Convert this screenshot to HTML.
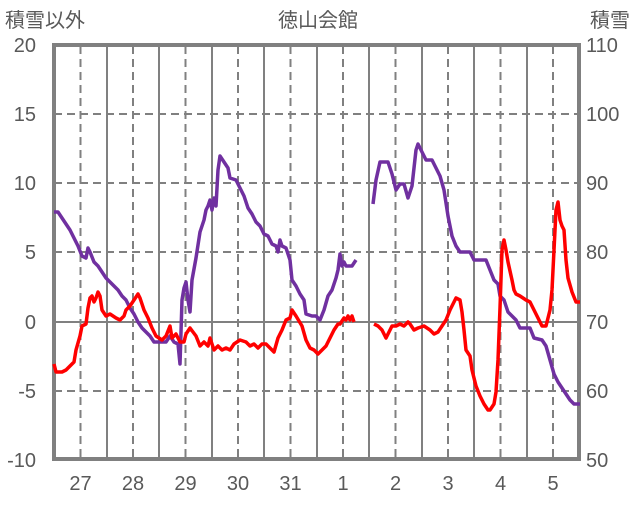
<!DOCTYPE html>
<html><head><meta charset="utf-8"><style>
body{margin:0;background:#fff}
text{font-family:"Liberation Sans","Noto Sans CJK JP",sans-serif;fill:#595959}
</style></head><body>
<svg width="636" height="501" xmlns="http://www.w3.org/2000/svg">
<g font-size="20">
<text x="5" y="27">積雪以外</text>
<text x="318" y="27" text-anchor="middle">徳山会館</text>
<text x="590" y="27">積雪</text>
<g text-anchor="end">
<text x="36" y="52">20</text><text x="36" y="121">15</text><text x="36" y="190">10</text>
<text x="36" y="259">5</text><text x="36" y="329">0</text><text x="36" y="398">-5</text><text x="36" y="467">-10</text>
</g>
<g>
<text x="586" y="52">110</text><text x="586" y="121">100</text><text x="586" y="190">90</text>
<text x="586" y="259">80</text><text x="586" y="329">70</text><text x="586" y="398">60</text><text x="586" y="467">50</text>
</g>
<g text-anchor="middle">
<text x="80.5" y="490">27</text><text x="133" y="490">28</text><text x="185.5" y="490">29</text>
<text x="238" y="490">30</text><text x="290.5" y="490">31</text><text x="343" y="490">1</text>
<text x="395.5" y="490">2</text><text x="448" y="490">3</text><text x="500.5" y="490">4</text><text x="553" y="490">5</text>
</g>
</g>
<g stroke="#808080" stroke-width="2" stroke-dasharray="8,5">
<line x1="54" x2="579" y1="114" y2="114"/><line x1="54" x2="579" y1="183" y2="183"/>
<line x1="54" x2="579" y1="252" y2="252"/><line x1="54" x2="579" y1="391" y2="391"/>
<line x1="80.5" x2="80.5" y1="46" y2="459"/><line x1="133" x2="133" y1="46" y2="459"/>
<line x1="185.5" x2="185.5" y1="46" y2="459"/><line x1="238" x2="238" y1="46" y2="459"/>
<line x1="290.5" x2="290.5" y1="46" y2="459"/><line x1="343" x2="343" y1="46" y2="459"/>
<line x1="395.5" x2="395.5" y1="46" y2="459"/><line x1="448" x2="448" y1="46" y2="459"/>
<line x1="500.5" x2="500.5" y1="46" y2="459"/><line x1="553" x2="553" y1="46" y2="459"/>
</g>
<g stroke="#808080" stroke-width="2">
<line x1="54" x2="579" y1="322" y2="322"/>
<line x1="107" x2="107" y1="46" y2="459"/><line x1="159" x2="159" y1="46" y2="459"/>
<line x1="212" x2="212" y1="46" y2="459"/><line x1="264" x2="264" y1="46" y2="459"/>
<line x1="317" x2="317" y1="46" y2="459"/><line x1="369" x2="369" y1="46" y2="459"/>
<line x1="422" x2="422" y1="46" y2="459"/><line x1="474" x2="474" y1="46" y2="459"/>
<line x1="527" x2="527" y1="46" y2="459"/>
</g>
<rect x="54" y="45" width="525" height="414" fill="none" stroke="#808080" stroke-width="4"/>
<g fill="none" stroke="#7030a0" stroke-width="3.5" stroke-linejoin="round">
<polyline points="54,212 58,212 62,218 66,224 70,230 74,238 78,246 82,256 86,258 88,248 90,252 94,262 98,266 102,272 106,278 110,282 114,286 118,290 122,296 126,300 130,308 134,314 138,322 142,328 146,332 150,336 154,342 160,342 166,342 170,336 174,342 178,344 180,364 182,300 184,288 186,282 188,300 190,312 192,280 196,258 200,232 204,220 206,210 208,206 210,200 212,210 214,198 216,206 218,170 220,156 224,162 228,168 230,178 236,180 240,188 244,196 248,208 252,214 256,222 260,226 264,234 268,236 272,244 276,246 278,252 280,240 282,246 286,248 290,260 292,280 296,286 300,294 304,300 306,314 312,316 316,316 320,320 324,310 328,296 332,290 336,278 338,270 340,254 342,266 344,262 346,266 352,266 356,260"/>
<polyline points="373,204 376,180 380,162 388,162 392,174 396,190 400,184 404,184 408,198 412,186 416,150 418,144 422,152 426,160 432,160 436,168 440,176 444,190 448,216 452,236 456,246 460,252 470,252 474,260 486,260 490,270 494,280 498,284 500,296 504,300 508,312 512,316 516,320 520,328 530,328 534,338 542,340 546,346 550,360 554,374 558,382 562,388 566,394 570,400 574,404 580,404"/>
</g>
<g fill="none" stroke="#ff0000" stroke-width="3.5" stroke-linejoin="round">
<polyline points="54,364 56,372 62,372 66,370 70,366 74,362 76,350 80,336 82,326 86,324 88,308 90,298 92,296 94,302 96,298 98,292 100,296 102,310 106,316 110,314 116,318 120,320 124,316 126,310 130,306 134,300 138,294 140,298 144,310 148,318 152,328 156,336 162,340 166,336 170,326 172,338 176,334 180,342 184,342 186,334 190,328 196,336 200,346 204,342 208,346 210,338 214,350 218,346 222,350 226,348 230,350 234,344 240,340 246,342 250,346 254,344 258,348 262,344 266,344 270,348 274,352 278,338 282,330 286,320 290,318 292,310 296,316 302,326 306,340 310,348 314,350 318,354 322,350 326,346 330,338 334,330 338,324 340,324 344,318 346,320 348,316 350,320 352,316 354,322"/>
<polyline points="374,324 378,326 382,330 386,338 388,334 392,326 396,326 400,324 404,326 408,322 410,324 414,330 418,328 424,326 430,330 434,334 438,332 442,326 446,320 450,310 454,302 456,298 460,300 462,312 464,330 466,350 470,356 472,370 476,386 480,396 484,404 488,410 490,410 494,404 496,392 498,360 500,308 502,250 504,240 506,250 508,262 512,280 514,290 516,294 520,296 526,300 530,302 534,310 538,318 542,326 546,326 550,310 552,290 554,250 556,210 558,202 560,220 562,226 564,230 566,260 568,278 572,292 576,302 580,302"/>
</g>
</svg>
</body></html>
